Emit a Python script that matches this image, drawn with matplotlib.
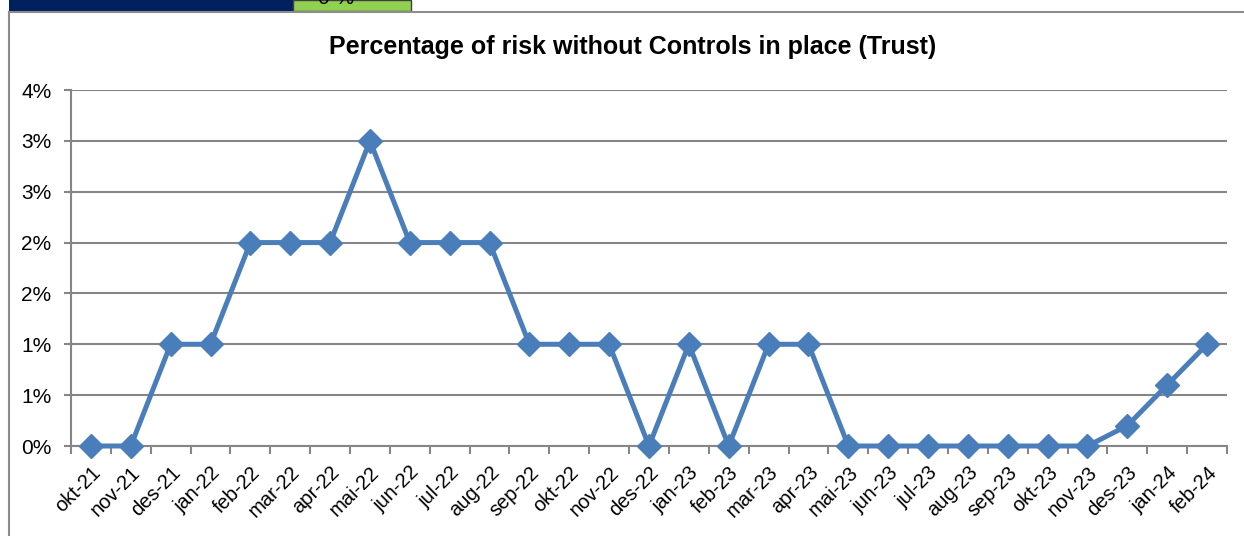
import matplotlib.pyplot as plt
import matplotlib.patches as patches
from matplotlib.ticker import FuncFormatter, MultipleLocator
import math

plt.rcParams['font.family'] = ['Liberation Sans', 'DejaVu Sans']

months = ['okt-21', 'nov-21', 'des-21', 'jan-22', 'feb-22', 'mar-22', 'apr-22', 'mai-22',
          'jun-22', 'jul-22', 'aug-22', 'sep-22', 'okt-22', 'nov-22', 'des-22', 'jan-23',
          'feb-23', 'mar-23', 'apr-23', 'mai-23', 'jun-23', 'jul-23', 'aug-23', 'sep-23',
          'okt-23', 'nov-23', 'des-23', 'jan-24', 'feb-24']
risk_pct = [0.0, 0.0, 1.0, 1.0, 2.0, 2.0, 2.0, 3.0,
            2.0, 2.0, 2.0, 1.0, 1.0, 1.0, 0.0, 1.0,
            0.0, 1.0, 1.0, 0.0, 0.0, 0.0, 0.0, 0.0,
            0.0, 0.0, 0.2, 0.6, 1.0]

W, H = 1244, 536
fig = plt.figure(figsize=(W / 100, H / 100), dpi=100)

# bits of the sheet above the chart
fig.patches.append(patches.Rectangle((9 / W, 1 - 11 / H), 284 / W, 11 / H,
                                     transform=fig.transFigure, facecolor='#002060',
                                     edgecolor='none', zorder=0))
fig.patches.append(patches.Rectangle((293 / W, 1 - 11 / H), 118 / W, 11 / H,
                                     transform=fig.transFigure, facecolor='#92d050',
                                     edgecolor='#404040', linewidth=1, zorder=0))
fig.text(336 / W, 1 + 1 / H, '0 %', fontsize=15, va='center', ha='center')

# chart frame
fig.add_artist(plt.Line2D([9 / W, 1], [1 - 12 / H, 1 - 12 / H], transform=fig.transFigure,
                          color='#8c8c8c', linewidth=1.5))
fig.add_artist(plt.Line2D([9 / W, 9 / W], [0, 1 - 12 / H], transform=fig.transFigure,
                          color='#8c8c8c', linewidth=1.5))

ax = fig.add_axes([71 / W, 1 - 446 / H, (1227 - 71) / W, (446 - 90) / H])

x = list(range(len(months)))
ax.plot(x, risk_pct, color='#4a7ebb', linewidth=3.6, marker='D', markersize=12.5,
        clip_on=False, zorder=3)

ax.set_xlim(-0.5, len(months) - 0.5)
ax.set_ylim(0, 3.5)
ax.yaxis.set_major_locator(MultipleLocator(0.5))
ax.yaxis.set_major_formatter(FuncFormatter(lambda v, p: '%d%%' % math.floor(v + 0.5 + 1e-9)))
ax.grid(axis='y', color='#868686', linewidth=1.5)
ax.set_axisbelow(True)

ax.set_xticks(x)
ax.set_xticklabels(months, rotation=45, ha='right', rotation_mode='anchor')
ax.set_xticks([i - 0.5 for i in range(len(months) + 1)], minor=True)
ax.tick_params(axis='x', which='major', length=0, pad=12, labelsize=14.5)
ax.tick_params(axis='x', which='minor', length=6, color='#868686', width=1.5)
ax.tick_params(axis='y', length=5, color='#868686', width=1.5, labelsize=15, pad=9)

for s in ['top', 'right']:
    ax.spines[s].set_visible(False)
for s in ['left', 'bottom']:
    ax.spines[s].set_color('#868686')
    ax.spines[s].set_linewidth(1.5)

fig.text(633 / W, 1 - 47 / H, 'Percentage of risk without Controls in place (Trust)',
         fontsize=18, fontweight='bold', ha='center', va='center')

fig.savefig('out.png', dpi=100)
